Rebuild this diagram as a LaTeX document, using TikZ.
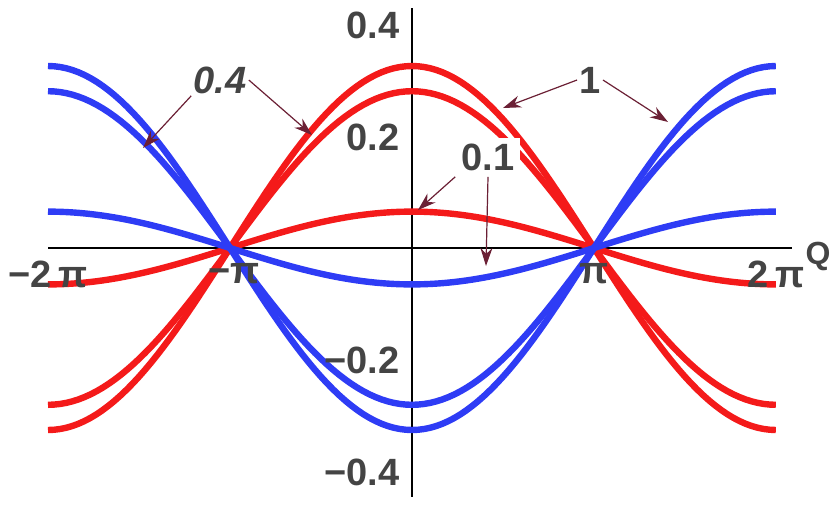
\documentclass[tikz,border=0pt]{standalone}
\usepackage{fontspec}
\setmainfont{Liberation Sans}
\usetikzlibrary{arrows.meta}
\definecolor{myred}{HTML}{F41A1A}
\definecolor{myblue}{HTML}{2E3CF5}
\definecolor{lab}{HTML}{444444}
\definecolor{arr}{HTML}{6B2035}
\begin{document}
\begin{tikzpicture}[x=0.5pt,y=-0.5pt,
  curve/.style={line width=3.2pt},
  tick/.style={font=\fontsize{19}{21}\selectfont\bfseries, text=lab, inner sep=1pt},
  ann/.style={font=\fontsize{19}{21}\selectfont\bfseries, text=lab, inner sep=1pt},
  pointer/.style={arr, line width=0.6pt, -{Stealth[length=9pt,width=6pt]}}]
\useasboundingbox (0,0) rectangle (830,505);
\draw[line width=0.8pt] (48,248) -- (792,248);
\draw[line width=0.8pt] (412,8) -- (412,497);
\foreach \amp/\col in {0.325/myred,0.28/myred,0.065/myred,-0.325/myblue,-0.28/myblue,-0.065/myblue}{
  \draw[curve,\col,line join=round] plot[variable=\t,domain=-2:2,samples=121] ({412+182*\t},{248-560*\amp*cos(90*\t)});
}
\node[tick,anchor=east] (y1) at (402,25) {0.4};
\node[tick,anchor=east] (y2) at (402,137) {0.2};
\node[tick,anchor=east] (y3) at (402,360) {−0.2};
\node[tick,anchor=east] (y4) at (402,472) {−0.4};
\node[tick] (x1) at (48,274) {−2\,π};
\node[tick] (x2) at (234,274) {−π};
\node[tick] (x3) at (594,274) {π};
\node[tick] (x4) at (776,274) {2\,π};
\node[tick,font=\fontsize{16}{18}\selectfont\bfseries] (q) at (818,256) {Q};
\node[ann] (l4) at (220,80) {\itshape 0.4};
\node[ann] (l1) at (590,80) {1};
\node[ann,fill=white,inner sep=3pt] (l01) at (488,157) {0.1};
\coordinate (a1) at (143,148);
\coordinate (a2) at (312,135);
\coordinate (b1) at (503,108);
\coordinate (b2) at (668,122);
\coordinate (c1) at (418,210);
\coordinate (c2) at (486,266);
\draw[pointer] (l4.south west) -- (a1);
\draw[pointer] (l4.east) -- (a2);
\draw[pointer] (l1.west) -- (b1);
\draw[pointer] (l1.east) -- (b2);
\draw[pointer] (l01.south west) -- (c1);
\draw[pointer] (l01.south) -- (c2);
\end{tikzpicture}
\end{document}
